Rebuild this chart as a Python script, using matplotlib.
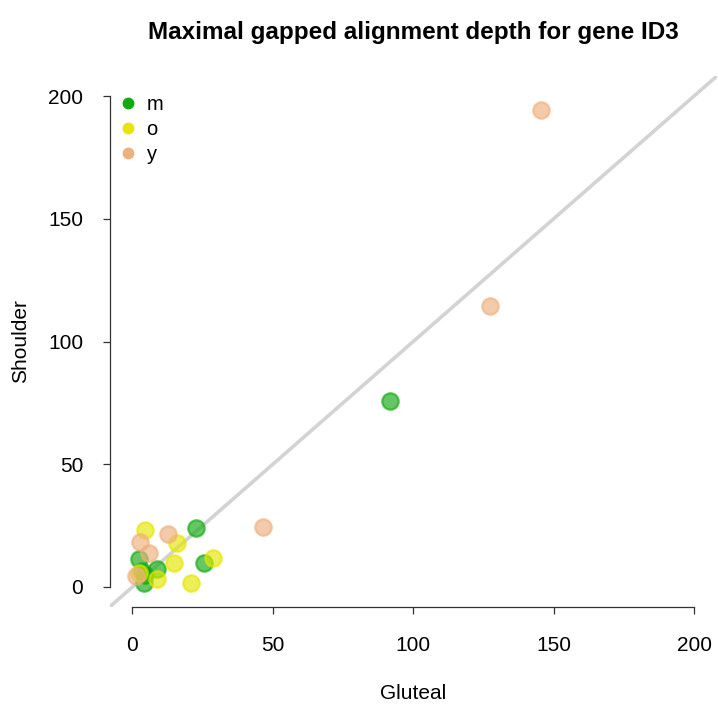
import matplotlib.pyplot as plt
from matplotlib.lines import Line2D

# gluteal vs shoulder depth per sample, grouped by age class
groups = ["m", "o", "y"]
colors = {"m": "#11AA11", "o": "#E6E600", "y": "#EDB07F"}

m_gluteal = [91.8, 22.8, 25.4, 2.3, 8.8, 3.4, 4.6, 4.0]
m_shoulder = [75.8, 24.2, 9.6, 11.3, 7.3, 6.5, 4.9, 1.5]

o_gluteal = [4.6, 15.9, 14.9, 28.6, 21.0, 8.8, 2.5]
o_shoulder = [23.2, 18.0, 9.6, 11.7, 1.5, 3.1, 5.5]

y_gluteal = [145.5, 127.2, 46.6, 12.6, 2.8, 5.8, 1.1]
y_shoulder = [194.5, 114.5, 24.4, 21.5, 18.5, 13.7, 4.5]

data = {
    "m": (m_gluteal, m_shoulder),
    "o": (o_gluteal, o_shoulder),
    "y": (y_gluteal, y_shoulder),
}

plt.rcParams["font.family"] = ["Liberation Sans", "DejaVu Sans"]

fig = plt.figure(figsize=(7.18, 7.14), dpi=100)
ax = fig.add_axes([110 / 718, 1 - 606.6 / 714, 606.5 / 718, 530.2 / 714])
ax.set_xlim(-8, 208)
ax.set_ylim(-8, 208)

# identity line
ax.plot([-8, 208], [-8, 208], color="#D3D3D3", lw=2.6, zorder=1)

for g in groups:
    gx, gy = data[g]
    ax.scatter(gx, gy, s=140, color=colors[g], alpha=0.65, linewidths=1.6,
               edgecolors=colors[g], zorder=2)

for side in ["top", "right"]:
    ax.spines[side].set_visible(False)
ax.spines["left"].set_bounds(0, 200)
ax.spines["bottom"].set_bounds(0, 200)
for side in ["left", "bottom"]:
    ax.spines[side].set_color("#333333")
    ax.spines[side].set_linewidth(0.9)

ticks = [0, 50, 100, 150, 200]
ax.set_xticks(ticks)
ax.set_yticks(ticks)
ax.tick_params(axis="both", direction="out", length=5.2, width=0.9,
               colors="#333333", labelcolor="black", labelsize=15)
ax.tick_params(axis="x", pad=16)
ax.tick_params(axis="y", pad=14)

ax.set_xlabel("Gluteal", fontsize=15, labelpad=21)
ax.set_ylabel("Shoulder", fontsize=15, labelpad=13)
ax.set_title("Maximal gapped alignment depth for gene ID3",
             fontsize=17.5, fontweight="bold", pad=27)

handles = [Line2D([], [], marker="o", ls="", color=colors[g], markersize=7.5)
           for g in groups]
ax.legend(handles, groups, loc="upper left", bbox_to_anchor=(-0.016, 0.992),
          frameon=False, fontsize=14.5, handletextpad=0.2, labelspacing=0.31,
          borderaxespad=0.3, handlelength=1.4)

fig.savefig("out.png", dpi=100)
